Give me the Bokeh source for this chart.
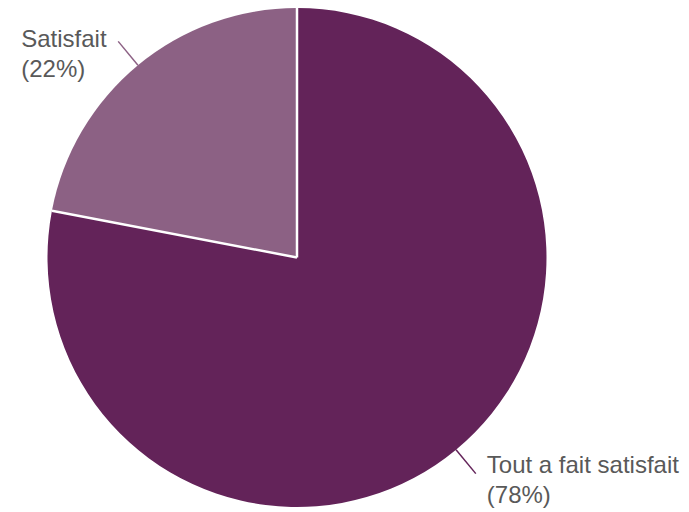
import math
from bokeh.plotting import figure
from bokeh.models import Range1d, ColumnDataSource
from bokeh.core.properties import value
from bokeh.embed import file_html
from bokeh.resources import INLINE

categories = ["Tout a fait satisfait", "Satisfait"]
percent = [78, 22]
colors = ["#632359", "#8C6184"]

W, H = 689, 512
p = figure(width=W, height=H, output_backend="svg", toolbar_location=None,
           x_range=Range1d(0, W), y_range=Range1d(0, H),
           min_border=0, outline_line_color=None)
p.axis.visible = False
p.grid.visible = False
p.background_fill_color = "white"

cx, cy, r = 296.5, 512 - 257, 249.5

# angles: start at top, going clockwise
total = sum(percent)
starts, ends, mids = [], [], []
cur = 90.0
for v in percent:
    sweep = 360.0 * v / total
    s = cur - sweep
    starts.append(math.radians(s))
    ends.append(math.radians(cur))
    mids.append(math.radians(cur - sweep / 2))
    cur = s

src = ColumnDataSource(dict(x=[cx] * len(percent), y=[cy] * len(percent),
                            start=starts, end=ends, color=colors))
p.wedge(x="x", y="y", radius=r, start_angle="start", end_angle="end",
        fill_color="color", line_color=None, source=src)

# white separators
bounds = list(ends)
p.segment(x0=[cx] * len(bounds), y0=[cy] * len(bounds),
          x1=[cx + r * math.cos(a) for a in bounds],
          y1=[cy + r * math.sin(a) for a in bounds],
          line_color="white", line_width=2.5)

# leader lines and labels
ext = 31
font = value("Liberation Sans")
for i, (cat, v, a) in enumerate(zip(categories, percent, mids)):
    x0, y0 = cx + r * math.cos(a), cy + r * math.sin(a)
    x1, y1 = cx + (r + ext) * math.cos(a), cy + (r + ext) * math.sin(a)
    p.line([x0, x1], [y0, y1], line_color=colors[i], line_width=1.5)
    if math.cos(a) < 0:
        tx = x1 - 97
        ty = y1 + 3
    else:
        tx = x1 + 11
        ty = y1 + 9
    p.text(x=[tx, tx], y=[ty, ty - 30], text=[cat, f"({v}%)"],
           text_font=font, text_font_size="24px", text_color="#595959",
           text_align="left", text_baseline="alphabetic")

open("out.html", "w").write(file_html(p, INLINE))
